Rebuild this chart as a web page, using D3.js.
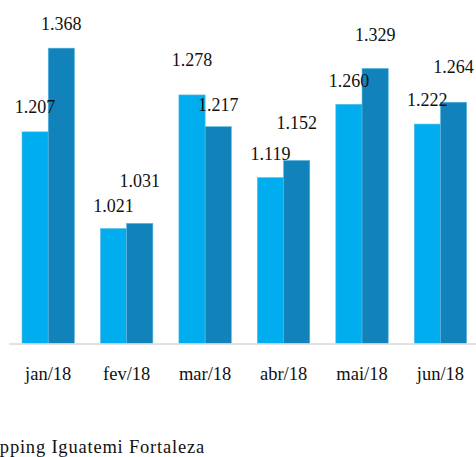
<!DOCTYPE html>
<html>
<head>
<meta charset="utf-8">
<script src="https://cdn.jsdelivr.net/npm/d3@7"></script>
<style>
  html, body { margin: 0; padding: 0; background: #fff; overflow: hidden; }
  text { font-family: "Liberation Serif", "DejaVu Serif", serif; fill: #111; }
</style>
</head>
<body>
<div id="canvas"></div>
<script>
"use strict"

/* Data */
let months = ["jan/18", "fev/18", "mar/18", "abr/18", "mai/18", "jun/18"];
let series1 = [1.207, 1.021, 1.278, 1.119, 1.260, 1.222];
let series2 = [1.368, 1.031, 1.217, 1.152, 1.329, 1.264];
let valueLabels1 = ["1.207", "1.021", "1.278", "1.119", "1.260", "1.222"];
let valueLabels2 = ["1.368", "1.031", "1.217", "1.152", "1.329", "1.264"];

/* Drawing configuration */
let svgWidth = 476;
let svgHeight = 457;
let baseY = 343.5;
let color1 = "#00aeef";
let color2 = "#1282bb";

/* How far each data label sits above its bar (labels were moved by hand) */
let lift1 = [19, 17, 29, 18, 17, 18];
let lift2 = [18, 36, 16, 31, 27, 29];

let svg = d3.select("#canvas")
    .append("svg")
    .attr("width", svgWidth)
    .attr("height", svgHeight);

/* Scales */
let xScale = d3.scaleBand()
    .domain(months)
    .range([9, 479.7])
    .paddingInner(0.332)
    .paddingOuter(0.166);

let innerScale = d3.scaleBand()
    .domain([0, 1])
    .range([0, xScale.bandwidth()]);

let yScale = d3.scaleLinear()
    .domain([0.8, 1.4])
    .range([baseY, baseY - 312]);

let rows = months.map(function (m, i) {
    return [
        { month: m, k: 0, value: series1[i], label: valueLabels1[i], lift: lift1[i], fill: color1 },
        { month: m, k: 1, value: series2[i], label: valueLabels2[i], lift: lift2[i], fill: color2 }
    ];
}).flat();

/* Bars */
svg.selectAll("rect.bar")
    .data(rows)
    .join("rect")
    .attr("class", "bar")
    .attr("x", d => xScale(d.month) + innerScale(d.k))
    .attr("y", d => yScale(d.value))
    .attr("width", innerScale.bandwidth())
    .attr("height", d => baseY - yScale(d.value))
    .attr("fill", d => d.fill)
    .attr("stroke", "#5cb8e2")
    .attr("stroke-width", 0.6);

/* Category axis */
let xAxis = d3.axisBottom(xScale).tickSize(0).tickPadding(23);
let axisG = svg.append("g")
    .attr("transform", "translate(0," + (baseY + 0.5) + ")")
    .call(xAxis);
axisG.select(".domain")
    .attr("stroke", "#d9d9d9")
    .attr("stroke-width", 1.6)
    .attr("d", "M9,0H" + svgWidth);
axisG.selectAll("text")
    .attr("font-size", "18.5px")
    .attr("fill", "#111")
    .style("font-family", "'Liberation Serif', serif");

/* Data labels */
svg.selectAll("text.vlabel")
    .data(rows)
    .join("text")
    .attr("class", "vlabel")
    .attr("x", d => xScale(d.month) + innerScale(d.k) + innerScale.bandwidth() / 2)
    .attr("y", d => yScale(d.value) - d.lift)
    .attr("text-anchor", "middle")
    .attr("font-size", "18px")
    .text(d => d.label);

/* Caption (its start is cut at the left edge in the original) */
svg.append("text")
    .attr("x", 205)
    .attr("y", 453)
    .attr("text-anchor", "end")
    .attr("font-size", "18.5px")
    .attr("letter-spacing", "0.8px")
    .text("Shopping Iguatemi Fortaleza");
</script>
</body>
</html>
